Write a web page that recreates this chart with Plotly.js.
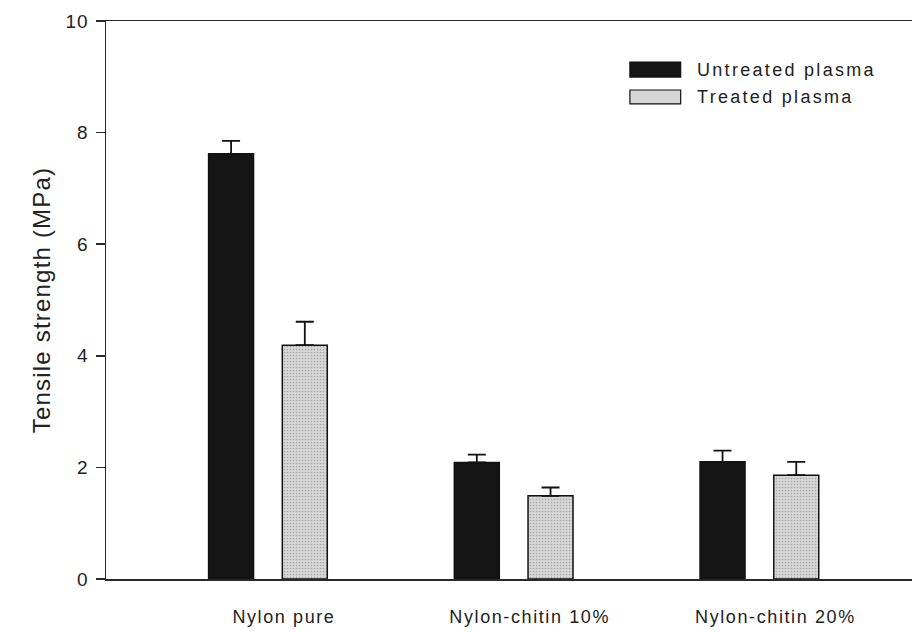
<!DOCTYPE html>
<html>
<head>
<meta charset="utf-8">
<script src="https://cdn.plot.ly/plotly-3.0.1.min.js"></script>
<style>
  html, body { margin: 0; padding: 0; background: #fff; }
  #chart { width: 912px; height: 632px; }
  /* slightly wide lettering for the category, tick, title and legend labels */
  .js-plotly-plot .xtick text { letter-spacing: 1.6px; }
  .js-plotly-plot .ytick text { letter-spacing: 1px; }
  .js-plotly-plot .ytitle { letter-spacing: 1.2px; }
  .js-plotly-plot .annotation-text { letter-spacing: 2.3px; }
</style>
</head>
<body>
<div id="chart"></div>
<script>
// Tensile strength of nylon films, with and without plasma treatment
const categories = ['Nylon pure', 'Nylon-chitin 10%', 'Nylon-chitin 20%'];
const seriesNames = ['Untreated plasma', 'Treated plasma'];
const untreated = [7.62, 2.09, 2.10];
const untreatedErr = [0.23, 0.14, 0.20];
const treated = [4.19, 1.49, 1.86];
const treatedErr = [0.42, 0.15, 0.24];
const yTicks = [0, 2, 4, 6, 8, 10];

const font = 'Liberation Sans, Arial, Helvetica, sans-serif';
const ink = '#222222';

const errStyle = (arr) => ({
  type: 'data', symmetric: false, array: arr,
  arrayminus: arr.map(() => 0),
  color: '#111111', thickness: 1.8, width: 9
});

const traces = [
  {
    type: 'bar', name: seriesNames[0], x: categories, y: untreated,
    marker: { color: '#141414', line: { color: '#111111', width: 1.5 } },
    error_y: errStyle(untreatedErr), showlegend: false, hoverinfo: 'y'
  },
  {
    type: 'bar', name: seriesNames[1], x: categories, y: treated,
    marker: {
      color: '#d6d6d6', line: { color: '#111111', width: 1.5 },
      pattern: { shape: '.', fgcolor: '#a8a8a8', bgcolor: '#d9d9d9', size: 3, solidity: 0.25 }
    },
    error_y: errStyle(treatedErr), showlegend: false, hoverinfo: 'y'
  }
];

// legend drawn as boxes + labels in the upper right of the plot area
const legX0 = 0.650, legX1 = 0.713, legTextX = 0.731;
const legRows = [
  { y0: 0.9265, y1: 0.8995, fill: '#141414' },
  { y0: 0.8763, y1: 0.8513, fill: '#d6d6d6' }
];
const shapes = legRows.map(r => ({
  type: 'rect', xref: 'paper', yref: 'paper',
  x0: legX0, x1: legX1, y0: r.y1, y1: r.y0,
  fillcolor: r.fill, line: { color: '#111111', width: 1.2 }
}));
const annotations = legRows.map((r, i) => ({
  xref: 'paper', yref: 'paper', x: legTextX, y: (r.y0 + r.y1) / 2,
  xanchor: 'left', yanchor: 'middle', align: 'left', showarrow: false,
  text: seriesNames[i], font: { family: font, size: 18, color: ink }
}));

const layout = {
  width: 912, height: 632,
  margin: { l: 106, r: 0, t: 21, b: 53 },
  paper_bgcolor: '#ffffff', plot_bgcolor: '#ffffff',
  barmode: 'group', bargap: 0.4, bargroupgap: 0.39,
  font: { family: font, color: ink },
  xaxis: {
    type: 'category', range: [-0.659, 2.621],
    showline: true, mirror: true, linecolor: '#2a2a2a', linewidth: 1.5,
    showgrid: false, zeroline: false, ticks: '',
    ticklabelstandoff: 21, ticklabelshift: 16,
    tickfont: { family: font, size: 18, color: ink }
  },
  yaxis: {
    range: [0, 10], tickvals: yTicks, ticktext: yTicks.map(String),
    showline: true, linecolor: '#2a2a2a', linewidth: 1.5,
    showgrid: false, zeroline: false,
    ticks: 'outside', ticklen: 9, tickwidth: 1.5, tickcolor: '#2a2a2a',
    ticklabelstandoff: 3,
    tickfont: { family: font, size: 19, color: ink },
    title: { text: 'Tensile strength (MPa)', standoff: 10,
             font: { family: font, size: 24, color: ink } }
  },
  shapes: shapes,
  annotations: annotations
};

Plotly.newPlot('chart', traces, layout, { staticPlot: true, displayModeBar: false });
</script>
</body>
</html>
